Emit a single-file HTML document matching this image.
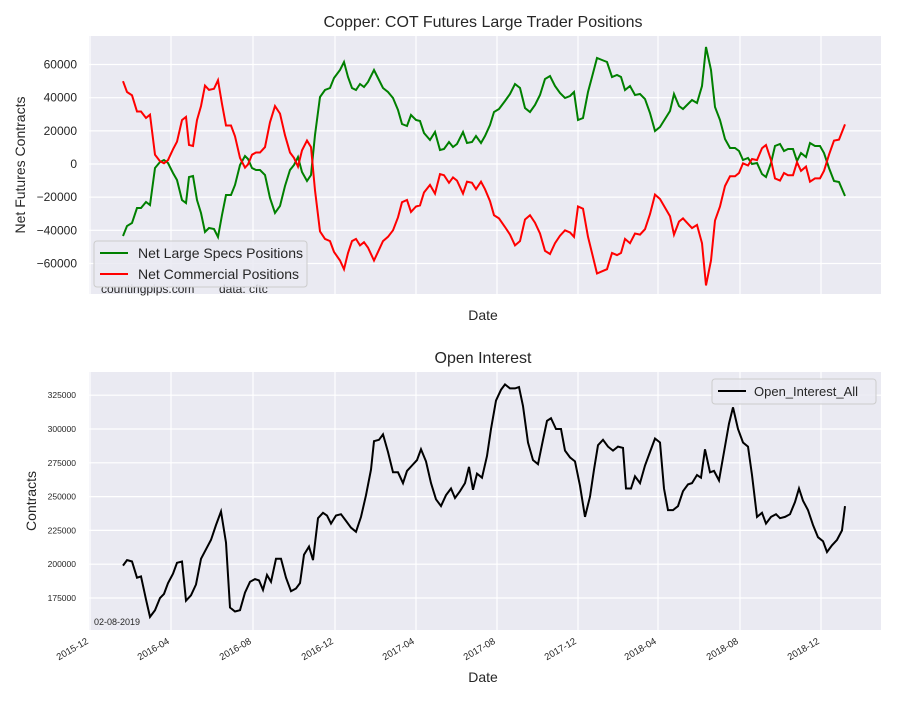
<!DOCTYPE html>
<html><head><meta charset="utf-8"><style>
body{margin:0;background:#fff}
svg text{font-family:"Liberation Sans",Arial,sans-serif;fill:#262626}
</style></head><body>
<svg id="s" width="900" height="700" xmlns="http://www.w3.org/2000/svg">
<rect x="89" y="36" width="792" height="258" fill="#eaeaf2"/>
<rect x="89" y="372" width="792" height="258" fill="#eaeaf2"/>
<g id="grid" stroke="#fff" stroke-width="1.2"></g>
<text x="483" y="27" font-size="16" text-anchor="middle">Copper: COT Futures Large Trader Positions</text>
<text x="483" y="363" font-size="16" text-anchor="middle">Open Interest</text>
<text x="483" y="320" font-size="14" text-anchor="middle">Date</text>
<text x="483" y="682" font-size="14" text-anchor="middle">Date</text>
<text transform="translate(25,165) rotate(-90)" font-size="14" text-anchor="middle">Net Futures Contracts</text>
<text transform="translate(36,501) rotate(-90)" font-size="14" text-anchor="middle">Contracts</text>
<g id="tl" font-size="12" text-anchor="end"></g>
<g id="bl" font-size="8.5" text-anchor="end"></g>
<g id="xl" font-size="9.5" text-anchor="end"></g>
<polyline id="g" fill="none" stroke="#008000" stroke-width="2"/>
<polyline id="r" fill="none" stroke="#ff0000" stroke-width="2"/>
<polyline id="k" fill="none" stroke="#000" stroke-width="2"/>
<text x="101" y="293" font-size="12">countingpips.com</text>
<text x="219" y="293" font-size="12">data: cftc</text>
<text x="94" y="625" font-size="9">02-08-2019</text>
<rect x="94" y="241" width="213" height="46" rx="3" fill="#eaeaf2" fill-opacity="0.85" stroke="#ccc"/>
<line x1="100" y1="253" x2="128" y2="253" stroke="#008000" stroke-width="2"/>
<line x1="100" y1="274" x2="128" y2="274" stroke="#ff0000" stroke-width="2"/>
<text x="138" y="258" font-size="14">Net Large Specs Positions</text>
<text x="138" y="279" font-size="14">Net Commercial Positions</text>
<rect x="712" y="379" width="164" height="25" rx="3" fill="#eaeaf2" fill-opacity="0.85" stroke="#ccc"/>
<line x1="718" y1="391" x2="746" y2="391" stroke="#000" stroke-width="2"/>
<text x="754" y="396" font-size="13">Open_Interest_All</text>
</svg>
<script>
var ns="http://www.w3.org/2000/svg";
function el(p,t,a,txt){var e=document.createElementNS(ns,t);for(var k in a)e.setAttribute(k,a[k]);if(txt)e.textContent=txt;document.getElementById(p).appendChild(e);}
var xs=[90,171,253,335,416,497,578,658,740,821],xl=["2015-12","2016-04","2016-08","2016-12","2017-04","2017-08","2017-12","2018-04","2018-08","2018-12"];
xs.forEach(function(x,i){el("grid","line",{x1:x,y1:36,x2:x,y2:294});el("grid","line",{x1:x,y1:372,x2:x,y2:630});
el("xl","text",{transform:"translate("+(x-1)+",643) rotate(-30)"},xl[i]);});
for(var v=-60000;v<=60000;v+=20000){var y=164-v*0.001658;el("grid","line",{x1:89,y1:y,x2:881,y2:y});el("tl","text",{x:77,y:y+4},v<0?"\u2212"+(-v):""+v);}
for(var v=175000;v<=325000;v+=25000){var y=598-(v-175000)*0.001352;el("grid","line",{x1:89,y1:y,x2:881,y2:y});el("bl","text",{x:76,y:y+3},""+v);}
var G=[123,236,127,226,132,223,137,208,141,208,146,202,150,205,155,168,160,162,164,160,168,163,173,173,177,180,182,200,186,203,189,177,193,176,197,200,201,213,205,232,209,228,214,229,218,237,222,215,226,195,231,195,235,185,240,165,245,156,248,159,252,168,256,170,260,170,265,175,270,198,275,213,280,206,285,186,290,170,294,165,298,157,302,172,307,181,311,175,315,135,320,97,325,90,330,88,334,78,340,70,344,62,348,77,352,88,356,90,360,84,364,87,368,82,374,70,378,78,383,88,388,92,393,98,398,110,402,124,407,126,411,115,416,120,420,121,424,133,430,140,435,132,440,150,444,149,449,142,453,147,457,144,463,132,467,143,472,142,476,136,481,143,485,136,490,125,494,112,499,109,505,101,510,94,515,84,520,88,525,108,530,112,535,105,540,95,545,79,550,76,555,86,560,93,565,98,570,96,574,92,578,120,583,118,588,92,592,77,597,58,602,60,607,62,612,77,617,75,621,77,625,90,630,86,635,95,640,94,645,99,650,113,655,131,660,127,665,119,670,111,674,94,679,106,683,109,688,104,692,100,697,103,702,86,706,47,711,70,715,107,720,120,725,139,730,148,735,148,739,151,743,160,748,158,752,164,757,163,762,174,766,177,771,163,775,146,780,144,784,151,788,149,793,149,797,161,801,153,806,157,810,143,815,146,820,146,824,153,829,168,834,181,839,182,845,196];
var g=[],r=[];for(var i=0;i<G.length;i+=2){g.push(G[i]+","+G[i+1]);r.push(G[i]+","+(328-G[i+1]-5-(G[i+1]-164)*0.08).toFixed(1));}
document.getElementById("g").setAttribute("points",g.join(" "));
document.getElementById("r").setAttribute("points",r.join(" "));
var K=[123,199,127,203,132,202,137,190,141,191,146,174,150,161,155,166,160,175,164,178,168,186,173,193,177,201,182,202,186,173,191,177,196,185,201,204,206,211,211,218,216,229,221,239,226,216,230,168,235,165,240,166,245,179,250,187,255,189,259,188,263,181,267,192,271,187,276,204,281,204,286,190,291,180,296,182,300,186,304,207,309,213,313,203,318,234,323,238,327,236,331,230,336,236,341,237,346,232,351,227,356,224,361,235,366,251,371,270,374,291,379,292,383,296,388,283,393,268,398,268,403,260,407,269,412,273,417,277,421,285,426,276,431,260,436,248,441,243,446,251,451,256,455,249,460,254,465,260,469,272,473,255,477,267,482,264,487,280,491,300,496,321,501,329,505,333,510,330,515,330,519,331,523,317,528,290,533,277,538,274,543,292,547,306,551,308,556,300,561,300,565,284,570,279,575,276,580,258,585,235,590,250,594,270,598,288,603,292,608,287,613,284,618,287,623,286,626,256,631,256,635,265,640,260,645,273,650,283,655,293,660,290,664,256,668,240,673,240,678,243,683,254,688,259,692,260,697,266,701,264,705,285,710,268,714,269,719,262,724,283,729,304,733,316,738,300,743,290,748,287,752,266,757,235,762,238,766,230,771,235,776,237,780,234,785,235,790,237,795,246,799,256,803,247,808,240,813,229,818,220,823,217,827,209,832,214,837,218,842,225,845,243];
var k=[];for(var i=0;i<K.length;i+=2)k.push(K[i]+","+(598-(K[i+1]-175)*1.352).toFixed(1));
document.getElementById("k").setAttribute("points",k.join(" "));
</script>
</body></html>
